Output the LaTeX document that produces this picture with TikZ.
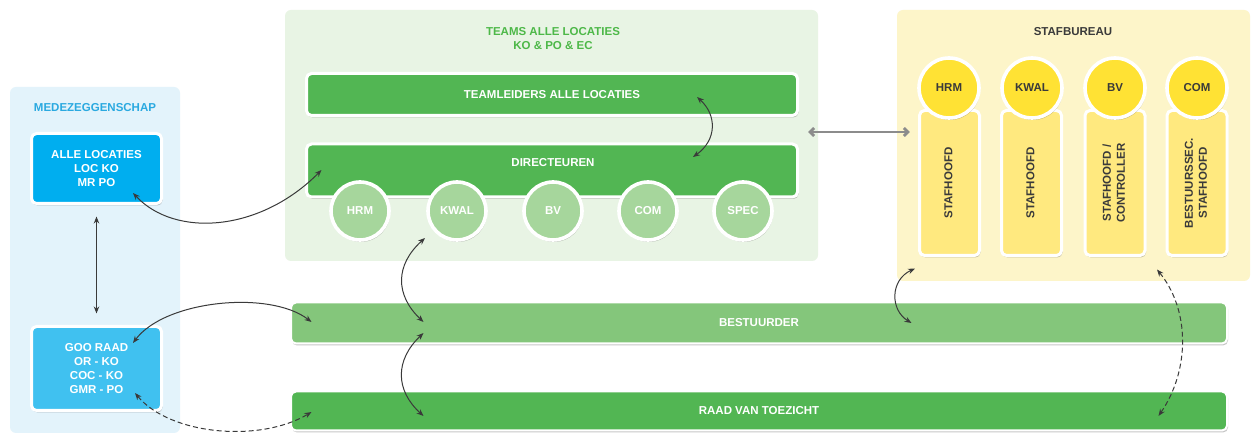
\documentclass[tikz,border=0pt]{standalone}
\usepackage{fontspec}
\setmainfont{Liberation Sans}
\usetikzlibrary{arrows.meta,shadows}
\definecolor{mpanel}{HTML}{E3F3FB}
\definecolor{mtitle}{HTML}{2AA9E0}
\definecolor{mboxa}{HTML}{00AEEF}
\definecolor{mboxb}{HTML}{40C1F0}
\definecolor{tpanel}{HTML}{E8F4E4}
\definecolor{ttitle}{HTML}{4DB848}
\definecolor{gbar}{HTML}{52B653}
\definecolor{gcirc}{HTML}{A6D69C}
\definecolor{gbest}{HTML}{84C67B}
\definecolor{spanel}{HTML}{FDF5C9}
\definecolor{ycirc}{HTML}{FFE234}
\definecolor{ycol}{HTML}{FFE97F}
\definecolor{stext}{HTML}{3A3A3A}
\definecolor{arr}{HTML}{3A3A3A}
\begin{document}
\begin{tikzpicture}[x=1pt,y=-1pt,
  lbl/.style={font=\fontsize{11.5}{14}\selectfont\bfseries, align=center},
  panel/.style={rectangle, rounded corners=6pt, inner sep=0pt, draw=none},
  shad/.style={drop shadow={shadow xshift=1pt,shadow yshift=-2pt,opacity=.22,fill=black}},
  box/.style={rectangle, rounded corners=5pt, draw=white, line width=3pt, inner sep=0pt, lbl, text=white, shad},
  disc/.style={circle, draw=white, line width=3.6pt, inner sep=0pt, lbl, shad},
  link/.style={draw=arr, line width=1pt, {Stealth[length=7pt,width=5.5pt]}-{Stealth[length=7pt,width=5.5pt]}},
  dlink/.style={link, dash pattern=on 5pt off 3pt},
  wide/.style={draw=black!45, line width=2.8pt, {Straight Barb[length=4pt,width=8pt]}-{Straight Barb[length=4pt,width=8pt]}}
]
\useasboundingbox (0,0) rectangle (1251,435);
\fill[white] (0,0) rectangle (1251,435);

% panels
\node[panel, fill=mpanel, minimum width=170pt, minimum height=346pt] (panelM) at (95,260) {};
\node[panel, fill=tpanel, minimum width=533pt, minimum height=251pt] (panelT) at (551.5,135.5) {};
\node[panel, fill=spanel, minimum width=353pt, minimum height=271pt] (panelS) at (1073.5,145.5) {};

% titles
\node[lbl, text=mtitle] (titleM) at (95,108) {MEDEZEGGENSCHAP};
\node[lbl, text=ttitle] (titleT) at (553,39) {TEAMS ALLE LOCATIES\\KO \& PO \& EC};
\node[lbl, text=stext] (titleS) at (1073,32) {STAFBUREAU};

% medezeggenschap boxes
\node[box, fill=mboxa, minimum width=130pt, minimum height=70pt] (alle) at (96.5,168.5) {ALLE LOCATIES\\LOC KO\\MR PO};
\node[box, fill=mboxb, minimum width=130pt, minimum height=84pt] (goo) at (96.5,368.5) {GOO RAAD\\OR - KO\\COC - KO\\GMR - PO};

% teams
\node[box, fill=gbar, minimum width=491pt, minimum height=42pt] (tl) at (552,94.5) {TEAMLEIDERS ALLE LOCATIES};
\node[box, fill=gbar, minimum width=491pt, minimum height=53pt] (dir) at (552,170.5) {};
\node[lbl, text=white] (dirlabel) at (553,163) {DIRECTEUREN};
\foreach \n/\x/\t in {hrm/360/HRM, kwal/457/KWAL, bv/553/BV, com/648/COM, spec/743/SPEC}
  \node[disc, fill=gcirc, text=white, minimum size=58pt] (\n) at (\x,211) {\t};

% stafbureau
\foreach \n/\x/\t in {col1/949.5/{STAFHOOFD}, col2/1031.5/{STAFHOOFD}, col3/1115/{STAFHOOFD /\\CONTROLLER}, col4/1197/{BESTUURSSEC.\\STAFHOOFD}}
  \node[box, fill=ycol, text=stext, minimum width=60pt, minimum height=145pt] (\n) at (\x,183)
    {\rotatebox{90}{\begin{tabular}{@{}c@{}}\t\end{tabular}}};
\foreach \n/\x/\t in {shrm/949/HRM, skwal/1032/KWAL, sbv/1115/BV, scom/1197/COM}
  \node[disc, fill=ycirc, text=stext, minimum size=60pt] (\n) at (\x,88) {\t};

% bottom bars
\node[box, fill=gbest, line width=2pt, minimum width=936pt, minimum height=41pt] (best) at (759,323) {BESTUURDER};
\node[box, fill=gbar, line width=2pt, minimum width=936pt, minimum height=39pt] (raad) at (759,411) {RAAD VAN TOEZICHT};

% connectors
\draw[link, line width=1.2pt, shorten <=11.5pt, shorten >=11.5pt] (alle.south) -- (goo.north);
\draw[link] ([shift={(36.5,24.5)}]alle.center) .. controls (175,238) and (260,232) .. ([shift={(16.5,-0.5)}]dir.west);
\draw[link] ([shift={(36.5,-25.5)}]goo.center) .. controls (165,300) and (270,290) .. ([shift={(21.5,-1)}]best.west);
\draw[dlink] ([shift={(38.5,24.5)}]goo.center) .. controls (170,435) and (260,443) .. ([shift={(21.5,1)}]raad.west);
\draw[link] ([shift={(-32,27)}]kwal.center) .. controls (395,265) and (395,295) .. ([shift={(133.5,-1)}]best.west);
\draw[link] ([shift={(133.5,10)}]best.west) .. controls (395,360) and (395,390) .. ([shift={(133.5,5)}]raad.west);
\draw[link] ([shift={(145,2.5)}]tl.center) .. controls (717,115) and (717,140) .. ([shift={(141,-13.5)}]dir.center);
\draw[link] ([shift={(-34.5,11.5)}]col1.south) .. controls (890,280) and (890,310) .. ([shift={(621.5,0)}]best.west);
\draw[dlink] ([shift={(-40,12.5)}]col4.south) .. controls (1190,310) and (1190,370) .. ([shift={(-69.5,5)}]raad.east);
\draw[wide] ([shift={(-10,-3.5)}]panelT.east) -- ([shift={(13,-13.5)}]panelS.west);
\end{tikzpicture}
\end{document}
